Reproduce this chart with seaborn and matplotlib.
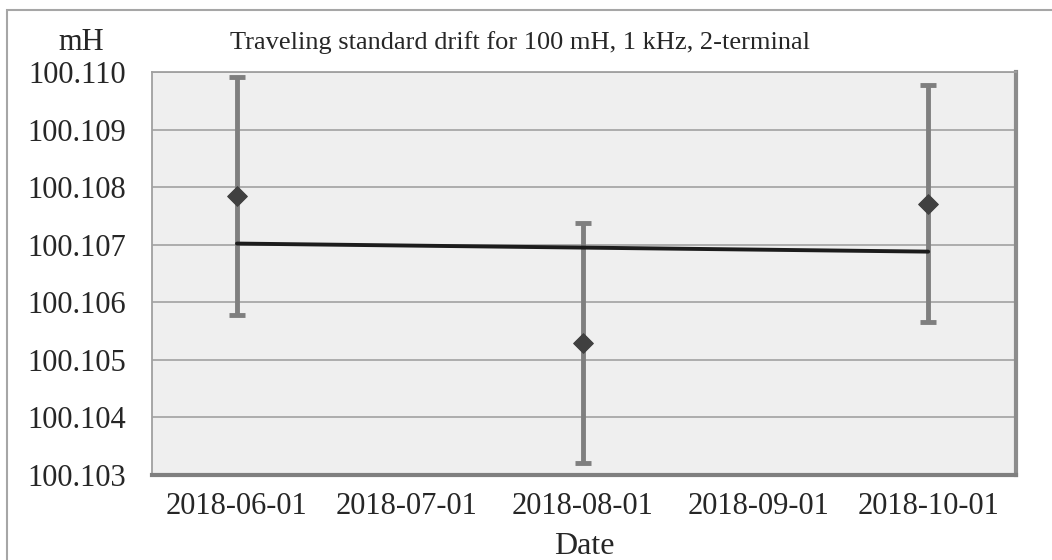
import numpy as np
import pandas as pd
import matplotlib
matplotlib.use('Agg')
import matplotlib.pyplot as plt
import matplotlib.dates as mdates
from matplotlib.patches import Rectangle
import seaborn as sns

# data
dates = ['2018-06-01', '2018-08-01', '2018-10-01']
values = [100.10785, 100.10529, 100.10771]
uncert = [0.00207, 0.00208, 0.00206]
tick_dates = ['2018-06-01', '2018-07-01', '2018-08-01', '2018-09-01', '2018-10-01']
y_ticks = [100.103, 100.104, 100.105, 100.106, 100.107, 100.108, 100.109, 100.110]

df = pd.DataFrame({'Date': pd.to_datetime(dates), 'mH': values, 'U': uncert})

sns.set_style('white')
plt.rcParams['font.family'] = ['Liberation Serif', 'DejaVu Serif']

fig = plt.figure(figsize=(10.52, 5.6), dpi=100)
ax = fig.add_axes([152 / 1052, 1 - 475 / 560, 864 / 1052, 403 / 560])
ax.set_facecolor('#efefef')

# outer frame of the chart
fig.patches.append(Rectangle((7 / 1052, -0.1), 1.2, 1.1 - 10 / 560,
                             transform=fig.transFigure, fill=False,
                             edgecolor='#a6a6a6', lw=1.5, clip_on=False))

for y in y_ticks:
    ax.axhline(y, color='#a8a8a8', lw=1.3, zorder=0)

ax.errorbar(df['Date'], df['mH'], yerr=df['U'], fmt='none', ecolor='#7f7f7f',
            elinewidth=3.5, capsize=6, capthick=3.5, zorder=2)

# linear trend line
xn = mdates.date2num(df['Date'])
k, b = np.polyfit(xn, df['mH'], 1)
trend = pd.DataFrame({'Date': df['Date'], 'fit': k * xn + b})
sns.lineplot(data=trend, x='Date', y='fit', color='#1c1c1c', lw=2.8, ax=ax, zorder=3)

sns.scatterplot(data=df, x='Date', y='mH', marker='D', s=100, color='#404040',
                edgecolor='#404040', ax=ax, zorder=4)

ax.set_ylim(100.103, 100.110)
ax.set_yticks(y_ticks)
ax.yaxis.set_major_formatter(matplotlib.ticker.FormatStrFormatter('%.3f'))

x0 = pd.Timestamp('2018-05-17')
x1 = pd.Timestamp('2018-10-16 12:00')
ax.set_xlim(x0, x1)
tk = pd.to_datetime(tick_dates)
ax.set_xticks(tk)
ax.set_xticklabels(tick_dates)
edges = np.linspace(mdates.date2num(x0), mdates.date2num(x1), 6)
ax.set_xticks(edges, minor=True)
ax.tick_params(axis='x', which='major', length=0, pad=12.5, labelsize=22)
ax.tick_params(axis='x', which='minor', length=8, width=1.2, color='#a0a0a0')
ax.tick_params(axis='y', length=9, width=1.2, color='#a0a0a0', pad=9.5, labelsize=22)

for s in ['left', 'top']:
    ax.spines[s].set_color('#a0a0a0')
    ax.spines[s].set_linewidth(1.3)
ax.spines['right'].set_color('#8c8c8c')
ax.spines['right'].set_linewidth(3)
ax.spines['bottom'].set_color('#7f7f7f')
ax.spines['bottom'].set_linewidth(3)

ax.set_xlabel('')
ax.set_ylabel('')
fig.text(584 / 1052, 1 - 546 / 560, 'Date', ha='center', va='center', fontsize=23)
fig.text(81 / 1052, 1 - 43 / 560, 'mH', ha='center', va='center', fontsize=22)
fig.text(520 / 1052, 1 - 43 / 560, 'Traveling standard drift for 100 mH, 1 kHz, 2-terminal',
         ha='center', va='center', fontsize=19)

fig.savefig('out.png', dpi=100)
